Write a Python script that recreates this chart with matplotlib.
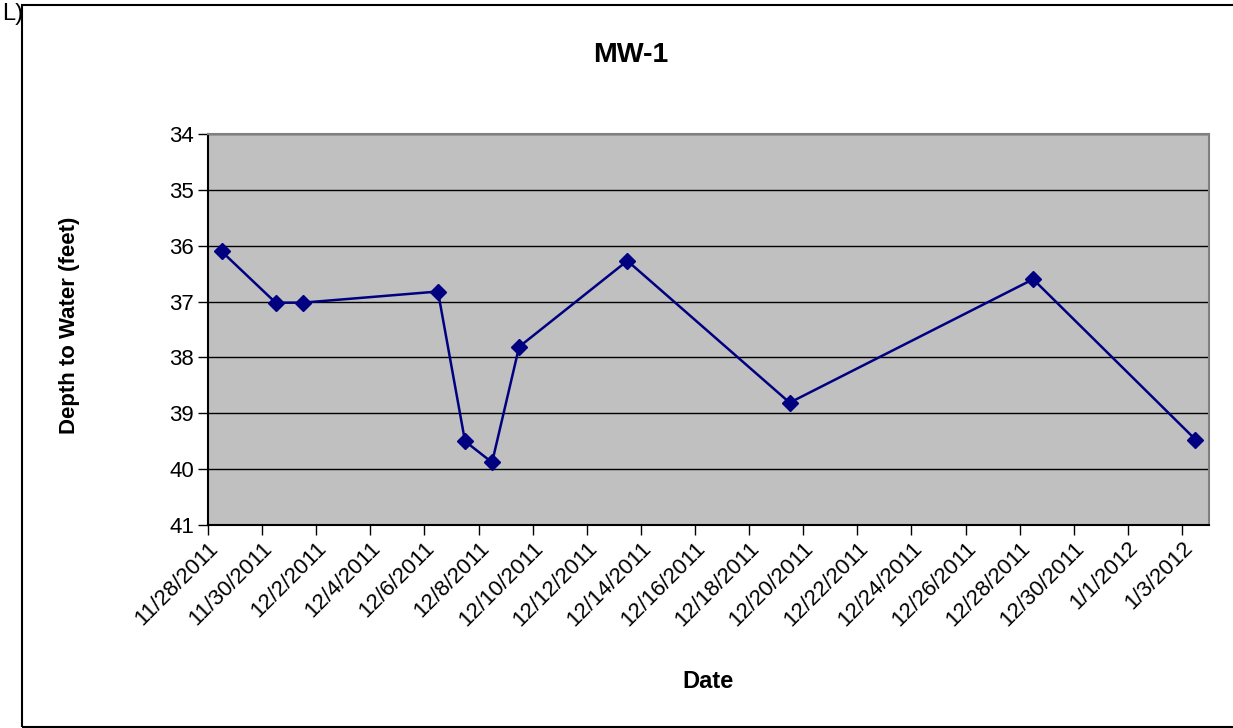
import pandas as pd
import matplotlib
matplotlib.use('Agg')
import matplotlib.pyplot as plt
import matplotlib.dates as mdates
from matplotlib.patches import Rectangle

plt.rcParams['font.family'] = ['Liberation Sans', 'DejaVu Sans']

# Dados (MW-1)
datas = ['2011-11-28 12:00', '2011-11-30 12:00', '2011-12-01 12:00',
         '2011-12-06 12:00', '2011-12-07 12:00', '2011-12-08 12:00',
         '2011-12-09 12:00', '2011-12-13 12:00', '2011-12-19 12:00',
         '2011-12-28 12:00', '2012-01-03 12:00']
profundidade = [36.10, 37.02, 37.02, 36.82, 39.50, 39.88, 37.81, 36.27,
                38.81, 36.60, 39.47]
y_ticks = [34, 35, 36, 37, 38, 39, 40, 41]
x_inicio, x_fim = '2011-11-28', '2012-01-04'

datas = pd.to_datetime(datas)

fig = plt.figure(figsize=(12.33, 7.28), dpi=100)
ax = fig.add_axes([208 / 1233, 1 - 525 / 728, (1209 - 208) / 1233, (525 - 134) / 728])

# moldura da área do gráfico
fig.patches.append(Rectangle((22 / 1233, 1 / 728), 1.0, 722 / 728, transform=fig.transFigure,
                             fill=False, edgecolor='black', linewidth=1.5))
fig.text(2 / 1233, 1 - 3 / 728, 'L)', fontsize=17, ha='left', va='top')

ax.set_facecolor('#C0C0C0')
ax.plot(datas, profundidade, color='#000080', linewidth=1.8, marker='D',
        markersize=8.5, markerfacecolor='#000080', markeredgecolor='#000080', zorder=3)

ax.set_ylim(41, 34)
ax.set_yticks(y_ticks)
ax.yaxis.grid(True, color='black', linewidth=1)
ax.set_axisbelow(True)

ax.set_xlim(pd.Timestamp(x_inicio), pd.Timestamp(x_fim))
ax.xaxis.set_major_locator(mdates.DayLocator(interval=2))
ax.xaxis.set_major_formatter(mdates.DateFormatter('%-m/%-d/%Y'))
plt.setp(ax.get_xticklabels(), rotation=45, ha='right', rotation_mode='anchor')

ax.tick_params(axis='both', direction='out', length=7, width=1, labelsize=16, colors='black')
ax.tick_params(axis='x', pad=2)
ax.tick_params(axis='y', pad=3)

for lado in ['top', 'right']:
    ax.spines[lado].set_color('#808080')
    ax.spines[lado].set_linewidth(1.5)
for lado in ['left', 'bottom']:
    ax.spines[lado].set_color('black')
    ax.spines[lado].set_linewidth(1.5)

fig.text(631 / 1233, 1 - 55 / 728, 'MW-1', fontsize=20.5, fontweight='bold', ha='center', va='center')
fig.text(708 / 1233, 1 - 682 / 728, 'Date', fontsize=17, fontweight='bold', ha='center', va='center')
fig.text(70 / 1233, 1 - 325 / 728, 'Depth to Water (feet)', fontsize=16, fontweight='bold',
         ha='center', va='center', rotation=90)

fig.savefig('out.png', dpi=100)
